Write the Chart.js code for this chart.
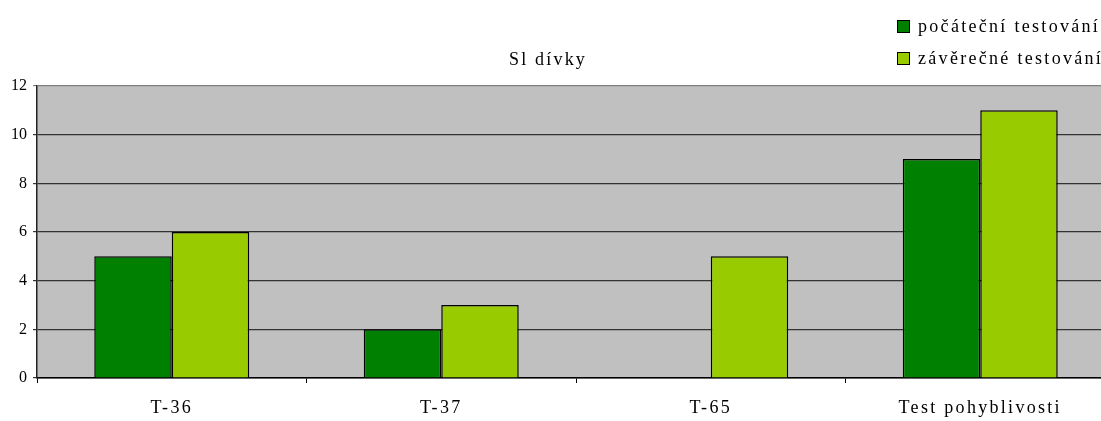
<!DOCTYPE html>
<html>
<head>
<meta charset="utf-8">
<script src="https://cdn.jsdelivr.net/npm/chart.js@4/dist/chart.umd.min.js"></script>
<style>
  html, body { margin: 0; padding: 0; background: #fff; overflow: hidden; }
  #wrap { position: relative; width: 1120px; height: 421px; }
  #title {
    position: absolute; left: 548px; top: 49px; transform: translateX(-50%);
    font: 18px "Liberation Serif", serif; letter-spacing: 2.2px; color: #000; white-space: nowrap;
  }
  #legend { position: absolute; left: 897px; top: 10px; font: 18px "Liberation Serif", serif; letter-spacing: 2.3px; color: #000; }
  .item { display: flex; align-items: center; height: 32px; white-space: nowrap; }
  .sw { width: 11px; height: 11px; border: 1px solid #000; margin-right: 8px; flex: none; }
</style>
</head>
<body>
<div id="wrap">
  <canvas id="chart" width="1120" height="421"></canvas>
  <div id="title">Sl dívky</div>
  <div id="legend"></div>
</div>
<script>
// ── data ────────────────────────────────────────────────────────────────
const categories = ['T-36', 'T-37', 'T-65', 'Test pohyblivosti'];
const initialTest = [5, 2, 0, 9];     // počáteční testování
const finalTest   = [6, 3, 5, 11];    // závěrečné testování
const seriesNames = ['počáteční testování', 'závěrečné testování'];
const seriesColors = ['#008000', '#99cc00'];

// legend (HTML)
const leg = document.getElementById('legend');
seriesNames.forEach((n, i) => {
  const d = document.createElement('div');
  d.className = 'item';
  d.innerHTML = `<span class="sw" style="background:${seriesColors[i]}"></span><span>${n}</span>`;
  leg.appendChild(d);
});

const plotBg = {
  id: 'plotBg',
  afterLayout(chart) {
    // widen spacing only on category labels
    const x = chart.scales.x;
    if (!x._spaced) {
      const orig = x.drawLabels;
      x.drawLabels = function (area) {
        chart.ctx.save();
        chart.ctx.letterSpacing = '2.3px';
        orig.call(this, area);
        chart.ctx.restore();
      };
      x._spaced = true;
    }
  },
  beforeDraw(chart) {
    const { ctx, chartArea: a } = chart;
    ctx.save();
    ctx.fillStyle = '#c0c0c0';
    ctx.fillRect(a.left, a.top, a.right - a.left, a.bottom - a.top);
    ctx.restore();
  },
};

const FONT = '"Liberation Serif", serif';

new Chart(document.getElementById('chart'), {
  type: 'bar',
  data: {
    labels: categories,
    datasets: [
      { label: seriesNames[0], data: initialTest, backgroundColor: seriesColors[0], borderColor: '#000', borderWidth: 1.5 },
      { label: seriesNames[1], data: finalTest,   backgroundColor: seriesColors[1], borderColor: '#000', borderWidth: 1.5 },
    ],
  },
  options: {
    responsive: false,
    animation: false,
    layout: { padding: { top: 86, right: 5, left: 0, bottom: 0 } },
    datasets: { bar: { categoryPercentage: 0.575, barPercentage: 1 } },
    plugins: { legend: { display: false }, tooltip: { enabled: false }, title: { display: false } },
    scales: {
      x: {
        afterFit: s => { s.height = 43; },
        grid: { drawOnChartArea: false, drawTicks: true, tickLength: 5, color: '#000', offset: true },
        border: { color: '#000', width: 1.5 },
        ticks: { font: { family: FONT, size: 18 }, color: '#000', padding: 14, maxRotation: 0 },
      },
      y: {
        min: 0, max: 12,
        afterFit: s => { s.width = 37; },
        ticks: { stepSize: 2, font: { family: FONT, size: 16 }, color: '#000', padding: 6 },
        grid: {
          color: c => (c.tick && c.tick.value === 12 ? '#808080' : '#333333'),
          lineWidth: 1.2, tickLength: 4,
        },
        border: { color: '#222', width: 1.5 },
      },
    },
  },
  plugins: [plotBg],
});
</script>
</body>
</html>
